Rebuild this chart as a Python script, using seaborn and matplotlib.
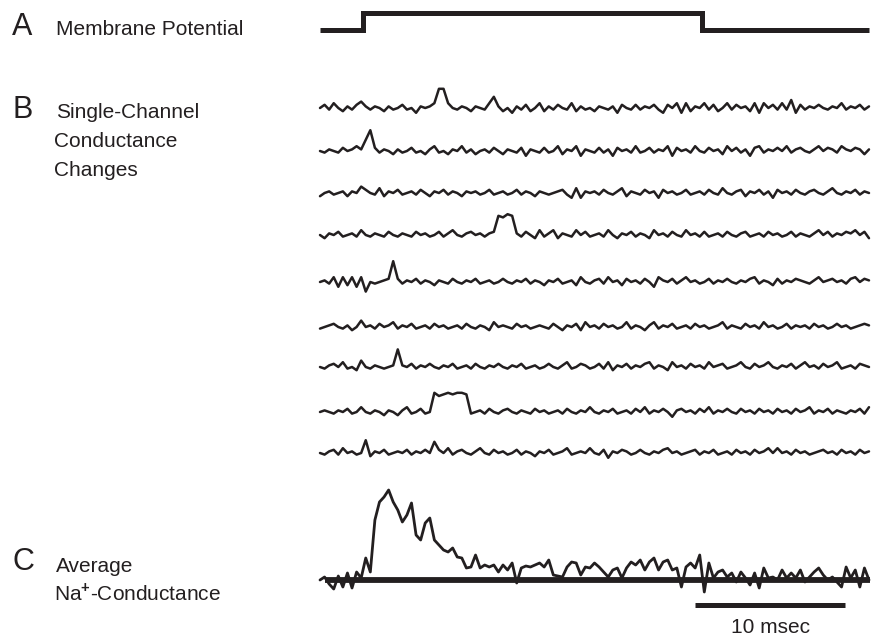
import numpy as np
import pandas as pd
import matplotlib
matplotlib.use("Agg")
import matplotlib.pyplot as plt
import seaborn as sns

sns.set_theme(style="white")
plt.rcParams['font.family'] = ['Liberation Sans', 'DejaVu Sans']
plt.rcParams['mathtext.fontset'] = 'custom'
plt.rcParams['mathtext.rm'] = 'Liberation Sans'
plt.rcParams['mathtext.bf'] = 'Liberation Sans:bold'

# ---------------- data ----------------
SAMPLE_MS = 0.305            # sampling interval of the traces (ms)

# A: membrane potential command (0 = holding, 1 = depolarised)
step_times = [0.0, 2.87, 25.47, 36.6]
step_levels = [0, 1, 0, 0]

# B: single-channel records (arbitrary conductance units, opening ~ 12)
trial_1 = [0, 2, -1, 3, 0, -2, 1, -1, 2, 4,
           1, -1, 1, 0, -2, 1, -1, 0, 2, -1,
           0, -3, 1, 0, 1, 3, 12, 12, 3, 0,
           -1, 1, 0, -2, 1, 0, -1, 3, 7, 1,
           -2, 0, -3, 1, -1, 2, -2, 0, 3, -2,
           1, -1, 2, 0, -1, 3, -2, 1, -1, 0,
           -2, 1, 0, -1, 1, -3, 2, 0, -1, 2,
           -1, 1, 0, 2, -1, -3, 2, 0, 3, -3,
           3, -2, 1, 0, 3, -1, 2, -2, 0, 3,
           -1, 2, 0, 1, -2, 3, -3, 3, 0, 2,
           -1, 3, -1, 5, -3, 2, -1, 1, 0, 2,
           0, -1, 1, 0, 3, -1, 1, 0, 2, -1, 1]
trial_2 = [0, -1, 1, 0, -1, 2, 0, 1, 3, 1,
           7, 13, 2, -1, 1, 0, -2, 1, -1, 0,
           2, -1, 0, -2, 1, 3, -1, 0, -2, 1,
           0, 3, -1, 1, -2, 0, 1, -1, 2, 0,
           -2, 1, 0, -1, 2, -3, 1, 0, -1, 2,
           -1, 0, 3, -2, 1, 0, 3, -3, 1, 0,
           -1, 2, -1, 1, -3, 2, 0, 1, -1, 3,
           -1, 0, 2, -1, 1, 0, 3, -3, 2, 0,
           1, -1, 3, 0, -1, 2, 0, 1, -2, 3,
           0, 2, -1, 1, -3, 2, 3, -1, 1, 0,
           2, 0, 3, -1, 1, 2, 0, -1, 1, 3,
           0, 2, 1, -1, 3, 1, 0, 2, 1, -2, 1]
trial_3 = [-2, 0, 1, -1, 0, 1, -2, 1, 0, 4,
           2, 0, -1, 3, -2, 1, 0, 2, -1, 0,
           1, -1, 2, 0, -2, 1, 0, 2, -1, 1,
           0, -2, 1, 0, 1, -1, 0, 2, -1, 0,
           1, -1, 0, 2, -1, 1, 0, -2, 1, 0,
           -1, 0, 1, 2, -1, -3, 3, -3, 1, 0,
           1, -1, 2, 0, -1, 1, 3, -2, 1, 0,
           -1, 2, 0, 1, -3, 2, 0, 1, -1, 0,
           2, -1, 0, 1, -1, 2, 0, -1, 3, 0,
           -1, 1, 2, -2, 1, 0, 2, -1, 1, -3,
           2, 0, 1, -1, 2, 0, -1, 1, 2, 0,
           -1, 1, 3, 0, -1, 1, 0, 2, -1, 1, 0]
trial_4 = [0, -2, 1, 0, 2, -1, 0, 1, -1, 3,
           0, -1, 1, 0, -1, 2, 0, -1, 1, 0,
           -1, 2, 0, 1, -1, 0, 2, -1, 1, 3,
           0, -1, 1, 2, 0, 1, -1, 1, 2, 12,
           11, 13, 12, 1, -1, 2, 0, -2, 3, -1,
           1, 3, -2, 1, 0, -1, 3, 0, 2, -1,
           0, 1, -1, 3, 0, -2, 1, 0, 2, -1,
           1, 0, -2, 3, 0, 1, -1, 2, 0, -1,
           3, 0, 1, -1, 2, -1, 0, 1, -1, 2,
           0, -1, 1, 2, -1, 0, 1, -1, 2, 0,
           1, -1, 0, 2, -1, 1, 0, -1, 1, 3,
           0, 2, -1, 1, 0, 2, 1, 3, 0, 2, -2]
trial_5 = [0, 1, -1, 3, -3, 3, -2, 3, -3, 3,
           -6, 0, -1, 0, 1, 2, 13, 2, -1, 1,
           0, 2, -1, 1, 0, -2, 1, 0, -1, 2,
           0, -1, 1, 0, 2, -1, 0, 1, -1, 0,
           2, 0, -1, 1, 0, 2, -1, 1, 0, -2,
           1, 0, 2, -1, 0, 1, -2, 3, 0, -1,
           1, 2, -1, 3, 0, 1, -2, 2, 0, 1,
           -1, 2, 0, -3, 3, 1, 0, 2, -1, 1,
           3, 0, 1, -1, 0, 2, -1, 1, 0, 2,
           0, -1, 1, 0, 2, 3, -1, 1, 0, -2,
           2, -1, 1, 0, 2, 1, 0, -1, 1, 3,
           0, 1, 2, 0, 1, -1, 2, 3, 0, 2, 1]
trial_6 = [-1, 0, 1, 2, 0, -1, 1, -2, 0, 4,
           0, 1, -1, 2, 0, 1, 3, -1, 1, 0,
           2, -1, 0, 1, -1, 2, 0, 1, -1, 0,
           1, -1, 2, 0, -1, 1, 0, -2, 3, 0,
           1, 0, -1, 2, 0, 1, -1, 0, 1, 0,
           -1, 2, 0, -2, 1, 0, 2, -2, 3, 0,
           1, -1, 2, 0, 1, -1, 0, 3, -1, 1,
           0, -2, 1, 3, -1, 1, 0, 2, -1, 0,
           1, -1, 2, 0, 1, -1, 0, 1, 3, -1,
           1, 0, -1, 2, 0, 1, -1, 3, 0, 1,
           -1, 0, 2, -1, 1, 0, 1, -1, 2, 0,
           1, -1, 0, 2, 0, 1, -1, 0, 1, 2, 1]
trial_7 = [0, -1, 1, 2, 0, 3, -1, 0, -2, 4,
           0, -1, 1, 0, -1, 0, 1, 11, 1, 0,
           2, -1, 1, 0, 2, 0, -1, 1, 0, 2,
           -1, 0, 1, -1, 2, 0, -1, 1, 0, 2,
           0, -1, 1, 0, 2, -1, 0, 1, -1, 0,
           2, 0, -1, 1, 3, -1, 0, 2, 1, -1,
           0, 2, -1, 3, -2, 1, 0, 2, -1, 1,
           0, 2, 3, -1, 1, 0, -2, 3, 0, 1,
           -1, 2, 0, 1, -1, 3, 0, 1, 2, -1,
           0, 1, 3, 0, -1, 2, 0, 1, 3, 0,
           -1, 1, 0, 2, -1, 1, 3, 0, 1, -1,
           2, 0, 1, 3, -1, 0, 1, -1, 2, 1, 0]
trial_8 = [0, 1, 0, -1, 1, 0, 2, -1, 0, 3,
           0, -1, 1, 0, -2, 1, 0, -2, 1, 3,
           -1, 0, 2, -1, 0, 12, 10, 11, 12, 11,
           12, 12, 11, -1, 0, 1, -1, 2, 0, -1,
           1, 2, 0, -1, 1, 0, -1, 2, 0, 1,
           -1, 0, 1, -1, 2, 0, -1, 1, 0, 3,
           0, -1, 1, 0, 2, -1, 0, 1, -1, 2,
           0, 3, -1, 1, 0, 2, 0, -3, 1, 2,
           0, 1, -1, 2, 0, 3, -1, 1, 0, 2,
           0, -1, 2, 0, 1, -1, 2, 0, 1, -1,
           2, 0, 1, -1, 2, 0, 1, 3, -1, 1,
           0, 2, -1, 1, 0, -1, 1, 0, 2, -1, 3]
trial_9 = [0, -1, 1, 2, -1, 3, 0, 1, -1, 0,
           8, -2, 1, 0, 2, -1, 0, 1, 0, 2,
           -1, 1, 0, 2, 0, 7, 2, 0, 3, -1,
           1, 2, 0, -1, 1, 3, 0, -1, 2, 0,
           1, -1, 0, 2, -1, 1, 0, -2, 1, 0,
           2, -1, 0, 1, 3, -1, 0, 1, 0, 3,
           0, -1, 2, -3, 1, 0, 2, 1, -1, 0,
           2, 0, -1, 1, 0, 2, 3, 0, 1, -1,
           0, 1, 2, -1, 1, 0, 2, -1, 0, 1,
           -1, 2, 0, 1, -1, 2, 0, 1, 3, 0,
           3, 0, 1, -1, 2, 0, 1, -1, 0, 1,
           2, 0, 1, -1, 2, 0, 1, -1, 2, 0, 1]
trials = [trial_1, trial_2, trial_3, trial_4, trial_5,
          trial_6, trial_7, trial_8, trial_9]

# C: averaged Na+ conductance (pixel-scaled units)
average = [0, 3, -4, -9, 4, -7, 7, -8, 8, 2,
           22, 8, 60, 78, 83, 90, 78, 70, 58, 65,
           77, 45, 40, 57, 62, 40, 35, 30, 28, 32,
           23, 22, 12, 13, 25, 12, 15, 13, 15, 8,
           15, 10, 17, -3, 12, 14, 13, 15, 17, 13,
           20, 5, 4, 3, 13, 18, 17, 5, 13, 12,
           17, 13, 8, 3, 10, 12, 2, 12, 18, 15,
           20, 10, 18, 22, 10, 18, 20, 10, 12, -7,
           13, 17, 12, 25, -12, 17, 2, 8, 10, 3,
           7, -2, 8, 2, -5, 7, -8, 12, 2, 3,
           0, 10, 2, 7, 2, 10, -2, 3, 8, 12,
           5, 0, 3, -2, -7, 13, 2, 10, -7, 12, 0]
baseline_times = [0.33, 36.67]
baseline_levels = [0, 0]

scale_bar_ms = [25.0, 35.0]
scale_label = "10 msec"

panel_letters = ["A", "B", "C"]
panel_titles = [["Membrane Potential"],
                ["Single-Channel", "Conductance", "Changes"],
                ["Average", r"Na$^{\mathbf{+}}$-Conductance"]]

# ---------------- layout (pixels) ----------------
W, H = 871, 637
X0, PX_PER_MS = 320, 15.0
STEP_LOW_Y, STEP_HEIGHT = 30, 17
ROW_BASE_Y = [108, 151, 193, 235, 282, 327, 367, 412, 453]
ROW_GAIN = 1.6          # pixels per conductance unit for panel B
AVG_BASE_Y = 580
SCALE_Y = 605
INK = "#231f20"

fig = plt.figure(figsize=(W / 100, H / 100), dpi=100)
ax = fig.add_axes([0, 0, 1, 1])
ax.set_xlim(-X0 / PX_PER_MS, (W - X0) / PX_PER_MS)
ax.set_ylim(H, 0)
ax.axis("off")

# A: step
sns.lineplot(x=step_times,
             y=[STEP_LOW_Y - STEP_HEIGHT * v for v in step_levels],
             ax=ax, color=INK, linewidth=3.6, drawstyle="steps-post",
             estimator=None, sort=False, solid_joinstyle="miter",
             solid_capstyle="butt")

# B: single channel traces
rows = []
for k, tr in enumerate(trials):
    t = np.arange(len(tr)) * SAMPLE_MS
    rows.append(pd.DataFrame({"t": t,
                              "y": ROW_BASE_Y[k] - ROW_GAIN * np.asarray(tr, float),
                              "trial": k}))
df = pd.concat(rows, ignore_index=True)
sns.lineplot(data=df, x="t", y="y", units="trial", estimator=None,
             ax=ax, color=INK, linewidth=1.8, solid_joinstyle="round")

# C: average + baseline
sns.lineplot(x=baseline_times,
             y=[AVG_BASE_Y - v for v in baseline_levels],
             ax=ax, color=INK, linewidth=4.2, estimator=None,
             solid_capstyle="butt", zorder=2)
t_avg = np.arange(len(average)) * SAMPLE_MS
sns.lineplot(x=t_avg, y=AVG_BASE_Y - np.asarray(average, float), ax=ax,
             color=INK, linewidth=2.0, estimator=None, zorder=3,
             solid_joinstyle="round")

# scale bar
sns.lineplot(x=scale_bar_ms, y=[SCALE_Y, SCALE_Y], ax=ax, color=INK,
             linewidth=3.6, estimator=None, solid_capstyle="butt")


def ftext(x, y, s, **kw):
    fig.text(x / W, 1 - y / H, s, color=INK, va="baseline", **kw)


ftext((X0 + PX_PER_MS * np.mean(scale_bar_ms)), 633, scale_label,
      fontsize=15, ha="center")

letter_y = [35, 118, 570]
title_x = [[56], [56, 54, 54], [56, 54]]
title_y = [[35], [118, 147, 176], [572, 600]]
for i, L in enumerate(panel_letters):
    ftext(12, letter_y[i], L, fontsize=22, ha="left")
    for j, s in enumerate(panel_titles[i]):
        ftext(title_x[i][j], title_y[i][j], s, fontsize=15, ha="left")

fig.savefig("out.png", dpi=100, facecolor="white")
